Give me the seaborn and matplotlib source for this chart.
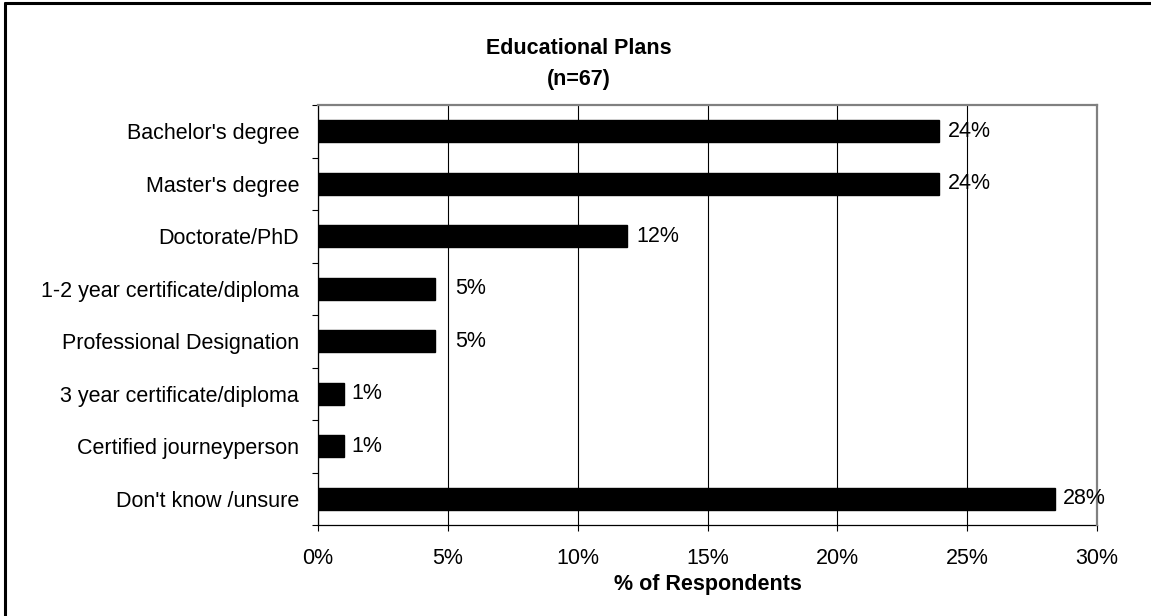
import matplotlib
matplotlib.use("Agg")
import matplotlib.pyplot as plt
from matplotlib.lines import Line2D
import seaborn as sns
import pandas as pd

# Survey answers, in display order (top to bottom)
categories = [
    "Bachelor's degree",
    "Master's degree",
    "Doctorate/PhD",
    "1-2 year certificate/diploma",
    "Professional Designation",
    "3 year certificate/diploma",
    "Certified journeyperson",
    "Don't know /unsure",
]
# Share of respondents, percent
percents = [23.9, 23.9, 11.9, 4.5, 4.5, 1.0, 1.0, 28.4]
x_ticks = [0, 5, 10, 15, 20, 25, 30]

df = pd.DataFrame({"plan": categories, "pct": percents})

sns.set_theme(style="white")
plt.rcParams["font.family"] = ["Liberation Sans", "DejaVu Sans"]
plt.rcParams.update({
    "text.color": "black",
    "axes.labelcolor": "black",
    "xtick.color": "black",
    "ytick.color": "black",
})

FS = 15.5
W, H = 1151, 616
fig = plt.figure(figsize=(W / 100, H / 100), dpi=100)
ax = fig.add_axes([318 / W, 1 - 525 / H, (1097 - 318) / W, (525 - 105) / H])

sns.barplot(data=df, x="pct", y="plan", order=categories, orient="h",
            color="black", width=0.42, saturation=1, ax=ax, zorder=3)
for p in ax.patches:
    p.set_edgecolor("black")

ax.set_xlim(0, 30)
ax.set_ylim(len(categories) - 0.5, -0.5)

# vertical gridlines
ax.xaxis.grid(True, color="black", linewidth=0.8, zorder=1)
ax.yaxis.grid(False)

ax.set_xticks(x_ticks)
ax.set_xticklabels([f"{t}%" for t in x_ticks])
ax.tick_params(axis="x", which="major", direction="out", length=4.5, width=0.8,
               color="black", labelsize=FS, pad=12, bottom=True)

# category separators as ticks on the value axis
ax.set_yticks([i - 0.5 for i in range(len(categories) + 1)], minor=True)
ax.tick_params(axis="y", which="minor", direction="out", length=4.5, width=0.8,
               color="black", left=True)
ax.tick_params(axis="y", which="major", length=0, labelsize=FS, pad=13.5)
ax.set_ylabel("")

ax.set_xlabel("% of Respondents", fontsize=FS, fontweight="bold", labelpad=4)

for side in ("left", "bottom"):
    ax.spines[side].set_color("black")
    ax.spines[side].set_linewidth(0.9)
for side in ("top", "right"):
    ax.spines[side].set_visible(True)
    ax.spines[side].set_color("#808080")
    ax.spines[side].set_linewidth(1.6)
    ax.spines[side].set_zorder(4)

# value labels next to each bar
for i, v in enumerate(percents):
    shown = int(v + 0.5)
    ax.annotate(f"{shown}%", xy=(max(v, shown), i), xytext=(5, 0),
                textcoords="offset points", ha="left", va="center",
                fontsize=FS, color="black", zorder=5, annotation_clip=False)

fig.text(579 / W, 1 - 49 / H, "Educational Plans", ha="center", va="center",
         fontsize=FS, fontweight="bold")
fig.text(579 / W, 1 - 80 / H, "(n=67)", ha="center", va="center",
         fontsize=FS, fontweight="bold")

# chart frame
fig.add_artist(Line2D([5 / W, 5 / W], [0, 1 - 3 / H], transform=fig.transFigure,
                      color="black", linewidth=2.2))
fig.add_artist(Line2D([5 / W, 1], [1 - 3 / H, 1 - 3 / H], transform=fig.transFigure,
                      color="black", linewidth=2.2))

fig.savefig("out.png", dpi=100, facecolor="white")
